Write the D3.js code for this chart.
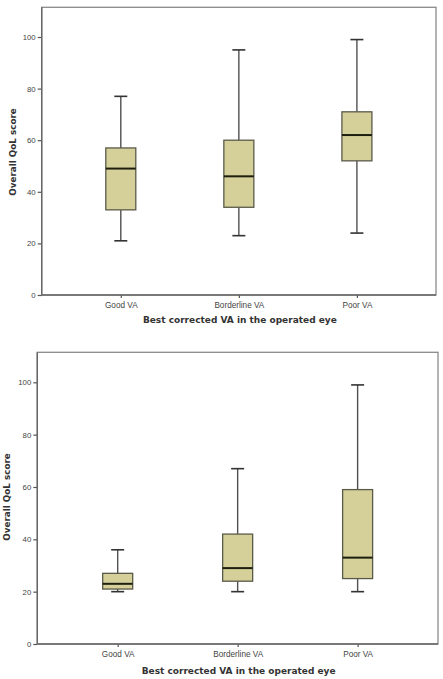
<!DOCTYPE html>
<html><head><meta charset="utf-8">
<script src="https://cdn.jsdelivr.net/npm/d3@7"></script>
<style>body{margin:0;background:#fff}svg{display:block}</style>
</head><body>
<svg id="c" width="443" height="679"></svg>
<script>
const categories = ["Good VA", "Borderline VA", "Poor VA"];
const yTicks = [0, 20, 40, 60, 80, 100];
// top chart: [min, q1, median, q3, max]
const topMin = [21, 23, 24];
const topQ1 = [33, 34, 52];
const topMed = [49, 46, 62];
const topQ3 = [57, 60, 71];
const topMax = [77, 95, 99];
// bottom chart
const botMin = [20, 20, 20];
const botQ1 = [21, 24, 25];
const botMed = [23, 29, 33];
const botQ3 = [27, 42, 59];
const botMax = [36, 67, 99];
const xTitle = "Best corrected VA in the operated eye";
const yTitle = "Overall QoL score";

const svg = d3.select("#c");

function draw(cfg, mins, q1s, meds, q3s, maxs) {
  const g = svg.append("g");
  const y = d3.scaleLinear().domain([0, 100]).range([cfg.y0, cfg.y100]);
  const x = d3.scalePoint().domain(categories).range([cfg.left, cfg.right]).padding(0.67);
  const frameCol = "#8a8a8a";
  g.append("rect").attr("x", cfg.left).attr("y", cfg.top)
    .attr("width", cfg.right - cfg.left).attr("height", cfg.y0 - cfg.top)
    .attr("fill", "none").attr("stroke", frameCol).attr("stroke-width", 1.3);
  const ya = g.append("g").attr("transform", `translate(${cfg.left},0)`)
    .call(d3.axisLeft(y).tickValues(yTicks).tickSize(4).tickPadding(2));
  ya.select(".domain").remove();
  ya.selectAll("line").attr("stroke", "#555").attr("stroke-width", 1.2);
  ya.selectAll("text").attr("font-family", "Liberation Sans, Arial, sans-serif")
    .attr("font-size", 7.8).attr("fill", "#444");
  const xa = g.append("g").attr("transform", `translate(0,${cfg.y0})`)
    .call(d3.axisBottom(x).tickSize(3).tickPadding(4));
  xa.select(".domain").remove();
  xa.selectAll("line").attr("stroke", "#555").attr("stroke-width", 1.2);
  xa.selectAll("text").attr("font-family", "Liberation Sans, Arial, sans-serif")
    .attr("font-size", 8.2).attr("fill", "#444");
  g.append("line").attr("x1", cfg.left).attr("x2", cfg.right).attr("y1", cfg.y0).attr("y2", cfg.y0)
    .attr("stroke", "#666").attr("stroke-width", 1.4);
  g.append("line").attr("x1", cfg.left).attr("x2", cfg.left).attr("y1", cfg.top).attr("y2", cfg.y0)
    .attr("stroke", "#666").attr("stroke-width", 1.4);
  g.append("text").attr("x", (cfg.left + cfg.right) / 2 + 1).attr("y", cfg.xTitleY)
    .attr("text-anchor", "middle").attr("font-family", "DejaVu Sans, sans-serif")
    .attr("font-weight", "bold").attr("font-size", 9).attr("fill", "#333").text(xTitle);
  g.append("text").attr("transform", `translate(${cfg.yTitleX},${cfg.yTitleY}) rotate(-90)`)
    .attr("text-anchor", "middle").attr("font-family", "DejaVu Sans, sans-serif")
    .attr("font-weight", "bold").attr("font-size", 8.8).attr("fill", "#333").text(yTitle);
  const bw = 30, cw = 13;
  categories.forEach((c, i) => {
    const cx = x(c);
    const b = g.append("g");
    b.append("line").attr("x1", cx).attr("x2", cx).attr("y1", y(maxs[i])).attr("y2", y(q3s[i]))
      .attr("stroke", "#505050").attr("stroke-width", 1.4);
    b.append("line").attr("x1", cx).attr("x2", cx).attr("y1", y(q1s[i])).attr("y2", y(mins[i]))
      .attr("stroke", "#505050").attr("stroke-width", 1.4);
    b.append("line").attr("x1", cx - cw / 2).attr("x2", cx + cw / 2).attr("y1", y(maxs[i])).attr("y2", y(maxs[i]))
      .attr("stroke", "#333").attr("stroke-width", 1.6);
    b.append("line").attr("x1", cx - cw / 2).attr("x2", cx + cw / 2).attr("y1", y(mins[i])).attr("y2", y(mins[i]))
      .attr("stroke", "#333").attr("stroke-width", 1.6);
    b.append("rect").attr("x", cx - bw / 2).attr("y", y(q3s[i]))
      .attr("width", bw).attr("height", y(q1s[i]) - y(q3s[i]))
      .attr("fill", "#d5d09a").attr("stroke", "#5a5a4a").attr("stroke-width", 1.3);
    b.append("line").attr("x1", cx - bw / 2).attr("x2", cx + bw / 2).attr("y1", y(meds[i])).attr("y2", y(meds[i]))
      .attr("stroke", "#1e1e10").attr("stroke-width", 2);
  });
}

draw({left: 41.7, right: 436, top: 7.3, y0: 295, y100: 37, xTitleY: 323, yTitleX: 16, yTitleY: 152},
  topMin, topQ1, topMed, topQ3, topMax);
draw({left: 37.3, right: 438, top: 352.3, y0: 644, y100: 382.3, xTitleY: 673.5, yTitleX: 9.5, yTitleY: 497},
  botMin, botQ1, botMed, botQ3, botMax);
</script>
</body></html>
